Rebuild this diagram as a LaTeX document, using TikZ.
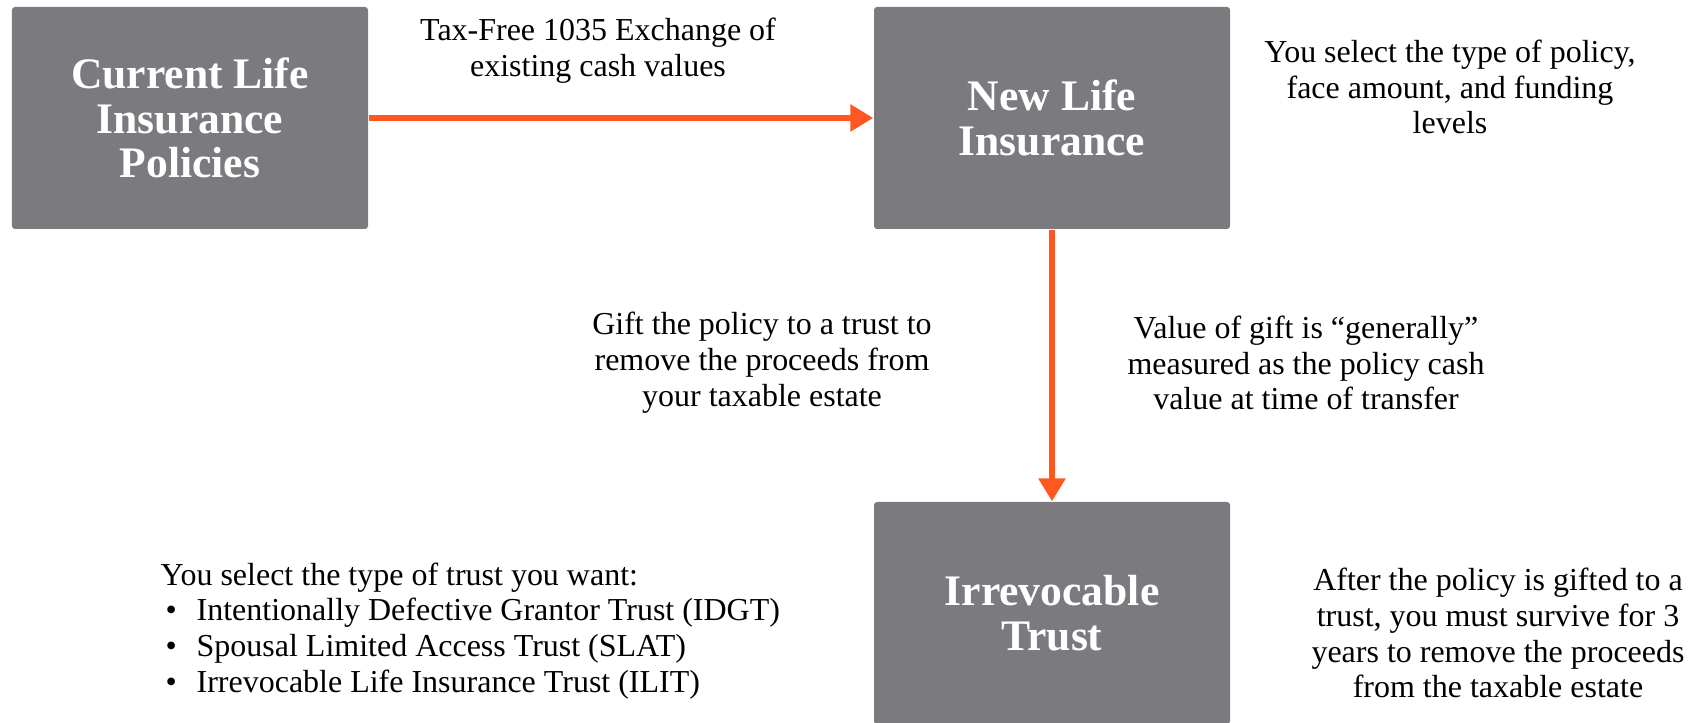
\documentclass[tikz,border=0pt]{standalone}
\usepackage{fontspec}
\setmainfont{Liberation Serif}
\usetikzlibrary{arrows.meta}
\definecolor{boxgray}{HTML}{7B7A7F}
\definecolor{arroworange}{HTML}{FF5722}
\begin{document}
\begin{tikzpicture}[
  policybox/.style={fill=boxgray, rounded corners=0.3mm, minimum width=3.56cm, minimum height=2.22cm,
    text=white, font=\fontsize{12.4}{12.7}\selectfont\bfseries, align=center, inner sep=0pt},
  note/.style={font=\fontsize{9.1}{10.2}\selectfont, align=center, inner sep=0pt},
  flow/.style={-{Triangle[length=2.3mm,width=2.6mm]}, line width=0.65mm, arroworange}
]
  \useasboundingbox (0,0) rectangle (17.07,7.22);
  \fill[white] (0,0) rectangle (17.07,7.22);
  % boxes
  \node[policybox] (current) at (1.90,6.04) {Current Life\\Insurance\\Policies};
  \node[policybox] (newlife) at (10.52,6.04) {New Life\\Insurance};
  \node[policybox] (trust) at (10.52,1.09) {Irrevocable\\Trust};
  % arrows
  \draw[flow] (current) -- (newlife);
  \draw[flow] (newlife) -- (trust);
  % notes
  \node[note] (exchange) at (5.98,6.71) {Tax-Free 1035 Exchange of\\existing cash values};
  \node[note] (policychoice) at (14.50,6.35) {You select the type of policy,\\face amount, and funding\\levels};
  \node[note] (gift) at (7.62,3.59) {Gift the policy to a trust to\\remove the proceeds from\\your taxable estate};
  \node[note] (giftvalue) at (13.06,3.59) {Value of gift is “generally”\\measured as the policy cash\\value at time of transfer};
  \node[note, align=left, anchor=west] (trustchoice) at (1.60,0.91) {You select the type of trust you want:\\
    \makebox[0.36cm][l]{\hspace{0.05cm}\textbullet}Intentionally Defective Grantor Trust (IDGT)\\
    \makebox[0.36cm][l]{\hspace{0.05cm}\textbullet}Spousal Limited Access Trust (SLAT)\\
    \makebox[0.36cm][l]{\hspace{0.05cm}\textbullet}Irrevocable Life Insurance Trust (ILIT)};
  \node[note] (survive) at (14.98,0.89) {After the policy is gifted to a\\trust, you must survive for 3\\years to remove the proceeds\\from the taxable estate};
\end{tikzpicture}
\end{document}
